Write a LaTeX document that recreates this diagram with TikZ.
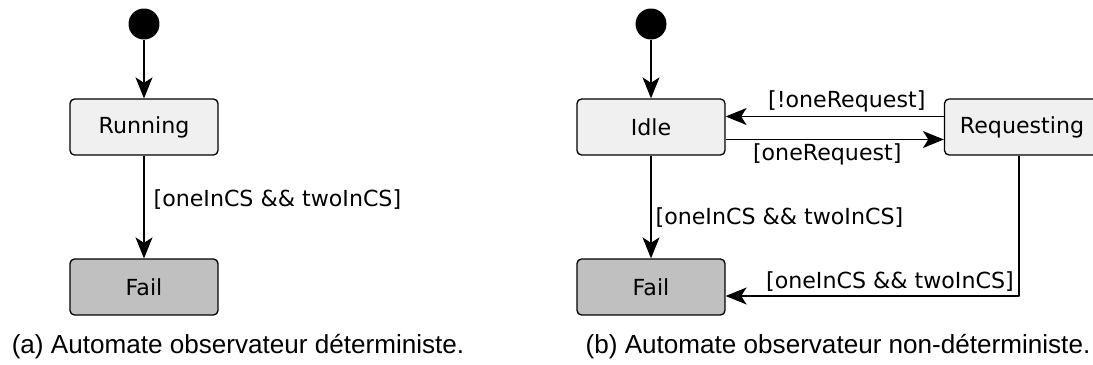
\documentclass[tikz,border=0pt]{standalone}
\usepackage{fontspec}
\setmainfont{DejaVu Sans}
\newfontfamily\capfont{Liberation Sans}
\usetikzlibrary{arrows.meta}

\definecolor{stategray}{HTML}{F0F0F0}
\definecolor{failgray}{HTML}{C0C0C0}

\tikzset{
  state/.style={draw, rounded corners=0.09cm, fill=stategray, line width=0.026cm,
    minimum width=2.96cm, minimum height=1.12cm, inner sep=0pt},
  failstate/.style={state, fill=failgray},
  init/.style={circle, fill=black, minimum size=0.62cm, inner sep=0pt},
  trans/.style={line width=0.026cm, -{Stealth[length=0.42cm, width=0.34cm, inset=0.11cm]}},
  guard/.style={inner sep=0.08cm},
  caption/.style={font=\capfont\fontsize{14.85}{18}\selectfont}
}

\begin{document}
\begin{tikzpicture}[x=0.02cm, y=-0.02cm, font=\fontsize{12.6}{15}\selectfont, line join=round]
    \useasboundingbox (0,0) rectangle (1093,365);

    % (a) deterministic observer
    \node[init] (init1) at (144,24) {};
    \node[state] (run) at (144,127) {Running};
    \node[failstate] (fail1) at (144,287) {Fail};
    \draw[trans] (init1) -- (run);
    \draw[trans] (run) -- node[guard, right, pos=0.43, xshift=0.1cm] {[oneInCS \&\& twoInCS]} (fail1);
    \node[caption] (capa) at (238,347) {(a) Automate observateur déterministe.};

    % (b) non-deterministic observer
    \node[init] (init2) at (651,24) {};
    \node[state] (idle) at (651,127) {Idle};
    \node[state, minimum width=3.1cm] (req) at (1022,127) {Requesting};
    \node[failstate] (fail2) at (651,287) {Fail};
    \coordinate (back) at ([yshift=-0.18cm]fail2.east);
    \draw[trans] (init2) -- (idle);
    \draw[trans] ([yshift=0.21cm]req.west) -- node[guard, above, xshift=0.24cm] {[!oneRequest]} ([yshift=0.21cm]idle.east);
    \draw[trans] ([yshift=-0.25cm]idle.east) -- node[guard, below, xshift=-0.15cm] {[oneRequest]} ([yshift=-0.25cm]req.west);
    \draw[trans] (idle) -- node[guard, right, pos=0.6] {[oneInCS \&\& twoInCS]} (fail2);
    \draw[trans] ([xshift=-0.06cm]req.south) |- node[guard, above, pos=0.72] {[oneInCS \&\& twoInCS]} (back);
    \node[caption] (capb) at (838,347) {(b) Automate observateur non-déterministe.};
\end{tikzpicture}
\end{document}
